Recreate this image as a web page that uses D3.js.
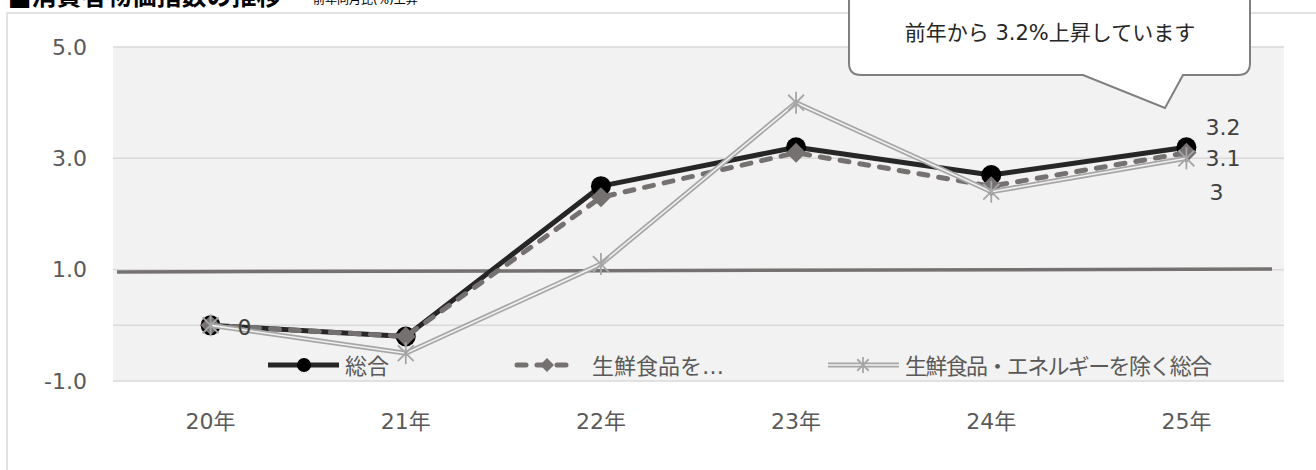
<!DOCTYPE html>
<html lang="ja">
<meta charset="utf-8"/>
<body>
	<svg id="chart" width="1316" height="470"></svg>
</body>
<style>
	body { margin: 0; background-color: #FFFFFF; }
	svg text { font-family: "DejaVu Sans", "Noto Sans CJK JP", sans-serif; }
</style>

<script src="https://cdn.jsdelivr.net/npm/d3@7/dist/d3.min.js"></script>

<script>
let years = ["20年", "21年", "22年", "23年", "24年", "25年"]
let sougou = [0, -0.2, 2.5, 3.2, 2.7, 3.2]
let exFresh = [0, -0.2, 2.3, 3.1, 2.5, 3.1]
let exFreshEnergy = [0, -0.5, 1.1, 4.0, 2.4, 3.0]
let seriesNames = ["総合", "生鮮食品を…", "生鮮食品・エネルギーを除く総合"]
let yTicks = [-1, 1, 3, 5]
let refLine = [0.96, 1.01]
let lastLabels = ["3.2", "3.1", "3"]
let firstLabel = "0"
let title = "■消費者物価指数の推移"
let subTitle = "前年同月比(%)上昇"
let calloutText = "前年から 3.2%上昇しています"

let svg = d3.select("#chart")
let plotL = 113, plotR = 1284, plotT = 47, plotB = 381

let xScale = d3.scaleBand().domain(years).range([plotL, plotR])
let cx = d => xScale(d) + xScale.bandwidth() / 2
let yScale = d3.scaleLinear().domain([-1, 5]).range([plotB, plotT])

// outer frame + title (title is clipped by the top edge, as in the original)
svg.append("rect")
	.attr("x", 7).attr("y", 13).attr("width", 1400).attr("height", 500)
	.attr("fill", "none").attr("stroke", "#D9D9D9").attr("stroke-width", 1.5)

svg.append("text")
	.attr("x", 8).attr("y", 5)
	.attr("font-size", 25).attr("font-weight", "bold").attr("fill", "#000")
	.text(title)
svg.append("text")
	.attr("x", 313).attr("y", 4)
	.attr("font-size", 12).attr("fill", "#000")
	.text(subTitle)

// plot area
svg.append("rect")
	.attr("x", plotL).attr("y", plotT).attr("width", plotR - plotL).attr("height", plotB - plotT)
	.attr("fill", "#F2F2F2")

svg.append("g").selectAll("line")
	.data(yTicks)
	.enter()
	.append("line")
	.attr("x1", plotL).attr("x2", plotR)
	.attr("y1", d => yScale(d)).attr("y2", d => yScale(d))
	.attr("stroke", "#D9D9D9").attr("stroke-width", 1.5)

// category axis line crosses at 0
svg.append("line")
	.attr("x1", plotL).attr("x2", plotR)
	.attr("y1", yScale(0)).attr("y2", yScale(0))
	.attr("stroke", "#D9D9D9").attr("stroke-width", 1.5)

let yAxis = svg.append("g")
	.attr("transform", "translate(" + plotL + ",0)")
	.call(d3.axisLeft(yScale).tickValues(yTicks).tickFormat(d => d.toFixed(1)).tickSize(0).tickPadding(26))
yAxis.select(".domain").remove()
yAxis.selectAll("text").attr("font-size", 22).attr("fill", "#595959")
	.attr("font-family", "DejaVu Sans, Noto Sans CJK JP, sans-serif")

let xAxis = svg.append("g")
	.attr("transform", "translate(0," + plotB + ")")
	.call(d3.axisBottom(xScale).tickSize(0).tickPadding(32))
xAxis.select(".domain").remove()
xAxis.selectAll("text").attr("font-size", 22).attr("fill", "#595959")
	.attr("font-family", "DejaVu Sans, Noto Sans CJK JP, sans-serif")

// reference line around 1.0
svg.append("line")
	.attr("x1", plotL + 4).attr("x2", plotR - 12)
	.attr("y1", yScale(refLine[0])).attr("y2", yScale(refLine[1]))
	.attr("stroke", "#767171").attr("stroke-width", 3.5)

let line = d3.line().x((d, i) => cx(years[i])).y(d => yScale(d))

function diamond(r) { return "M0," + (-r) + "L" + r + ",0L0," + r + "L" + (-r) + ",0Z" }
function star(g, r) {
	let a = r * 0.72
	g.append("line").attr("x1", 0).attr("x2", 0).attr("y1", -r).attr("y2", r)
	g.append("line").attr("x1", -a).attr("x2", a).attr("y1", -a).attr("y2", a)
	g.append("line").attr("x1", -a).attr("x2", a).attr("y1", a).attr("y2", -a)
	g.selectAll("line").attr("stroke", "#A6A6A6").attr("stroke-width", 1.8)
}

// 総合
svg.append("path").datum(sougou)
	.attr("d", line).attr("fill", "none")
	.attr("stroke", "#262626").attr("stroke-width", 5).attr("stroke-linejoin", "round")
svg.append("g").selectAll("circle")
	.data(sougou).enter().append("circle")
	.attr("cx", (d, i) => cx(years[i])).attr("cy", d => yScale(d))
	.attr("r", 10).attr("fill", "#000")

// 生鮮食品を除く総合
svg.append("path").datum(exFresh)
	.attr("d", line).attr("fill", "none")
	.attr("stroke", "#767171").attr("stroke-width", 5)
	.attr("stroke-dasharray", "9,11").attr("stroke-linecap", "round")
svg.append("g").selectAll("path")
	.data(exFresh).enter().append("path")
	.attr("transform", (d, i) => "translate(" + cx(years[i]) + "," + yScale(d) + ")")
	.attr("d", diamond(10)).attr("fill", "#767171")

// 生鮮食品・エネルギーを除く総合 (double line)
svg.append("path").datum(exFreshEnergy)
	.attr("d", line).attr("fill", "none")
	.attr("stroke", "#A6A6A6").attr("stroke-width", 5)
svg.append("path").datum(exFreshEnergy)
	.attr("d", line).attr("fill", "none")
	.attr("stroke", "#F2F2F2").attr("stroke-width", 1.6)
exFreshEnergy.forEach((d, i) => {
	star(svg.append("g").attr("transform", "translate(" + cx(years[i]) + "," + yScale(d) + ")"), 11)
})

// data labels
let lastX = cx(years[years.length - 1])
let lastY = [127, 158, 192]
svg.append("g").selectAll("text")
	.data(lastLabels).enter().append("text")
	.attr("x", (d, i) => lastX + (i == 2 ? 23 : 19))
	.attr("y", (d, i) => lastY[i])
	.attr("dominant-baseline", "central")
	.attr("font-size", 22).attr("fill", "#404040")
	.text(d => d)
svg.append("text")
	.attr("x", cx(years[0]) + 27).attr("y", yScale(0) + 2)
	.attr("dominant-baseline", "central")
	.attr("font-size", 22).attr("fill", "#404040")
	.text(firstLabel)

// legend
let legY = 365
let leg = svg.append("g")
leg.append("line").attr("x1", 268).attr("x2", 339).attr("y1", legY).attr("y2", legY)
	.attr("stroke", "#262626").attr("stroke-width", 5)
leg.append("circle").attr("cx", 304).attr("cy", legY).attr("r", 7).attr("fill", "#000")

leg.append("line").attr("x1", 517).attr("x2", 577).attr("y1", legY).attr("y2", legY)
	.attr("stroke", "#767171").attr("stroke-width", 5)
	.attr("stroke-dasharray", "9,11").attr("stroke-linecap", "round")
leg.append("path").attr("transform", "translate(547," + legY + ")")
	.attr("d", diamond(7)).attr("fill", "#767171")

leg.append("line").attr("x1", 828).attr("x2", 899).attr("y1", legY).attr("y2", legY)
	.attr("stroke", "#A6A6A6").attr("stroke-width", 5)
leg.append("line").attr("x1", 828).attr("x2", 899).attr("y1", legY).attr("y2", legY)
	.attr("stroke", "#F2F2F2").attr("stroke-width", 1.6)
star(leg.append("g").attr("transform", "translate(863," + legY + ")"), 8)

let legX = [345, 592, 905]
leg.selectAll("text.lab")
	.data(seriesNames).enter().append("text")
	.attr("class", "lab")
	.attr("x", (d, i) => legX[i]).attr("y", legY + 1)
	.attr("dominant-baseline", "central")
	.attr("font-size", 22).attr("fill", "#595959")
	.text(d => d)
	.filter((d, i) => i == 2)
	.attr("textLength", 307).attr("lengthAdjust", "spacing")

// callout
let cb = { x0: 849, x1: 1250, y0: -20, y1: 75, r: 12 }
let calloutPath = "M" + (cb.x0 + cb.r) + "," + cb.y0 +
	"L" + (cb.x1 - cb.r) + "," + cb.y0 + "Q" + cb.x1 + "," + cb.y0 + " " + cb.x1 + "," + (cb.y0 + cb.r) +
	"L" + cb.x1 + "," + (cb.y1 - cb.r) + "Q" + cb.x1 + "," + cb.y1 + " " + (cb.x1 - cb.r) + "," + cb.y1 +
	"L1183," + cb.y1 + "L1165,108L1083," + cb.y1 +
	"L" + (cb.x0 + cb.r) + "," + cb.y1 + "Q" + cb.x0 + "," + cb.y1 + " " + cb.x0 + "," + (cb.y1 - cb.r) +
	"L" + cb.x0 + "," + (cb.y0 + cb.r) + "Q" + cb.x0 + "," + cb.y0 + " " + (cb.x0 + cb.r) + "," + cb.y0 + "Z"
svg.append("path").attr("d", calloutPath)
	.attr("fill", "#FFFFFF").attr("stroke", "#7F7F7F").attr("stroke-width", 2)
svg.append("text")
	.attr("x", 1050).attr("y", 33)
	.attr("text-anchor", "middle").attr("dominant-baseline", "central")
	.attr("font-size", 21).attr("fill", "#262626")
	.text(calloutText)
</script>
</html>
